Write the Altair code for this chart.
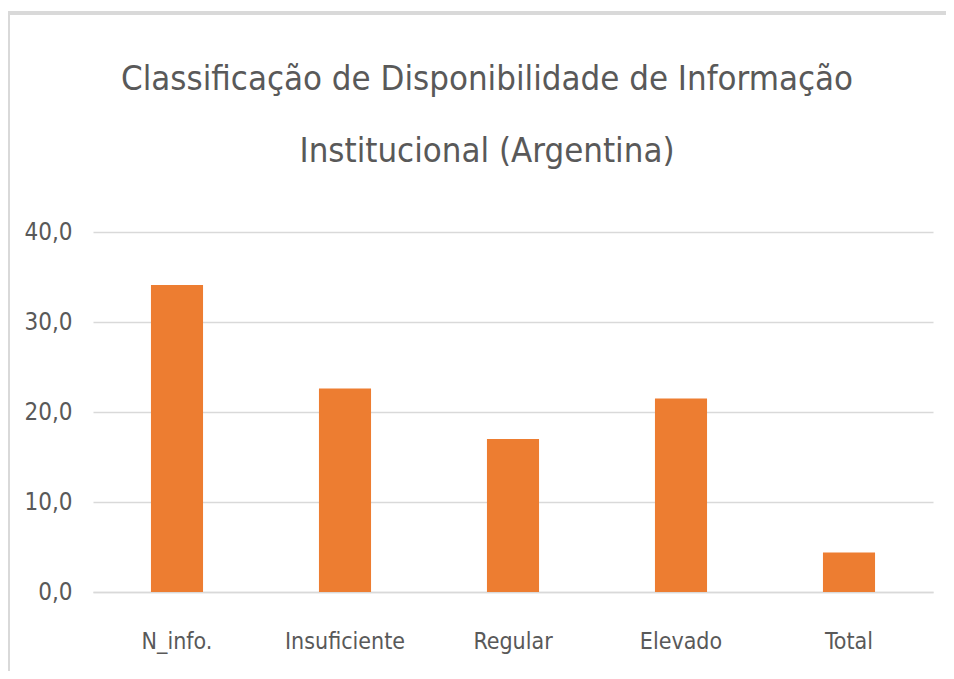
import altair as alt
import pandas as pd

categories = ["N_info.", "Insuficiente", "Regular", "Elevado", "Total"]
values = [34.1, 22.6, 17.0, 21.5, 4.4]

df = pd.DataFrame({"cat": categories, "val": values})

FONT = "DejaVu Sans Condensed, Liberation Sans, sans-serif"
GRAY = "#595959"

bars = alt.Chart(df).mark_bar(color="#ED7D31").encode(
    x=alt.X("cat:N", sort=categories, title=None,
            scale=alt.Scale(paddingInner=0.69, paddingOuter=0.345),
            axis=alt.Axis(labelAngle=0, labelFont=FONT, labelFontSize=23,
                          labelColor=GRAY, labelPadding=38, ticks=False,
                          domain=True, domainColor="#d9d9d9", domainWidth=1.5)),
    y=alt.Y("val:Q", title=None,
            scale=alt.Scale(domain=[0, 40]),
            axis=alt.Axis(values=[0, 10, 20, 30, 40], labelFont=FONT,
                          labelFontSize=24, labelColor=GRAY, labelPadding=21,
                          labelExpr="replace(format(datum.value, '.1f'), '.', ',')",
                          ticks=False, domain=False, gridColor="#d9d9d9",
                          gridWidth=1.5)),
)

frame_left = alt.Chart(df).mark_rule(color="#d9d9d9", strokeWidth=3).encode(
    x=alt.value(-84.5), y=alt.value(-219), y2=alt.value(460)
)
frame_top = alt.Chart(df).mark_rule(color="#d9d9d9", strokeWidth=3.5).encode(
    x=alt.value(-86), x2=alt.value(870), y=alt.value(-219)
)

chart = alt.layer(frame_left, frame_top, bars).properties(
    width=840,
    height=360,
    padding={"left": 85, "top": 224, "right": 13, "bottom": 79},
    autosize=alt.AutoSizeParams(type="none"),
    title=alt.TitleParams(
        text=["Classificação de Disponibilidade de Informação",
              "Institucional (Argentina)"],
        font=FONT, fontSize=34.5, fontWeight="normal", color=GRAY,
        anchor="middle", lineHeight=72, offset=-158, dx=-26,
    ),
).configure_view(stroke=None)

chart.save("out.html", embed_options={"renderer": "svg", "actions": False})
